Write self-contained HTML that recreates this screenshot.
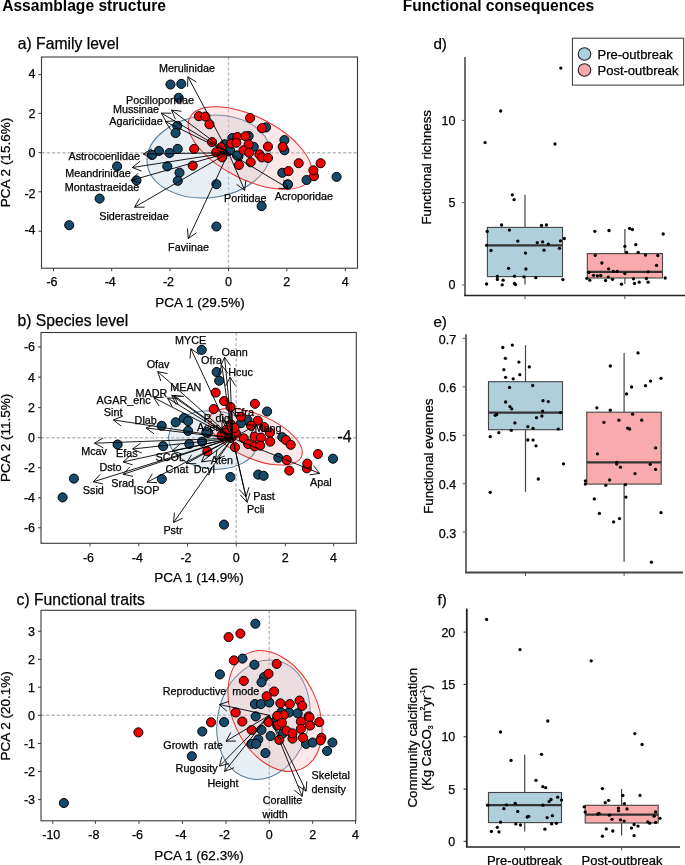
<!DOCTYPE html>
<html><head><meta charset="utf-8"><style>
html,body{margin:0;padding:0;background:#fff;}
body{width:685px;height:865px;overflow:hidden;font-family:"Liberation Sans", sans-serif;}
svg{display:block;will-change:transform;}
</style></head><body>
<svg width="685" height="865" viewBox="0 0 685 865" font-family='"Liberation Sans", sans-serif'>
<rect width="685" height="865" fill="#fff"/>
<text x="2.2" y="11" font-size="15.6" text-anchor="start" font-weight="bold" fill="#000">Assamblage structure</text>
<text x="402.7" y="11" font-size="15.6" text-anchor="start" font-weight="bold" fill="#000">Functional consequences</text>
<text x="17.8" y="49" font-size="15.7" text-anchor="start" font-weight="normal" fill="#000" stroke="#000" stroke-width="0.25">a) Family level</text>
<line x1="228.50" y1="57.00" x2="228.50" y2="268.20" stroke="#bbbbbb" stroke-width="1.4" stroke-dasharray="3.2,2"/>
<line x1="41.50" y1="152.70" x2="357.50" y2="152.70" stroke="#bbbbbb" stroke-width="1.4" stroke-dasharray="3.2,2"/>
<ellipse cx="208.5" cy="156.5" rx="61.7" ry="41.2" transform="rotate(-6.5 208.5 156.5)" fill="#aecbdc" fill-opacity="0.3" stroke="#4f7896" stroke-width="1"/>
<ellipse cx="250" cy="148" rx="67.4" ry="31.3" transform="rotate(26.8 250 148)" fill="#f6b3b3" fill-opacity="0.3" stroke="#e83030" stroke-width="1"/>
<circle cx="170.5" cy="84.5" r="4.55" fill="#174a69" stroke="#000" stroke-width="1"/>
<circle cx="181.3" cy="83.9" r="4.55" fill="#174a69" stroke="#000" stroke-width="1"/>
<circle cx="178.7" cy="97.8" r="4.55" fill="#174a69" stroke="#000" stroke-width="1"/>
<circle cx="177.3" cy="125.8" r="4.55" fill="#174a69" stroke="#000" stroke-width="1"/>
<circle cx="175.6" cy="133" r="4.55" fill="#174a69" stroke="#000" stroke-width="1"/>
<circle cx="177.7" cy="148.9" r="4.55" fill="#174a69" stroke="#000" stroke-width="1"/>
<circle cx="169.5" cy="153" r="4.55" fill="#174a69" stroke="#000" stroke-width="1"/>
<circle cx="158.9" cy="151" r="4.55" fill="#174a69" stroke="#000" stroke-width="1"/>
<circle cx="152.1" cy="155" r="4.55" fill="#174a69" stroke="#000" stroke-width="1"/>
<circle cx="117.1" cy="166.4" r="4.55" fill="#174a69" stroke="#000" stroke-width="1"/>
<circle cx="136.5" cy="180.4" r="4.55" fill="#174a69" stroke="#000" stroke-width="1"/>
<circle cx="99.6" cy="198.6" r="4.55" fill="#174a69" stroke="#000" stroke-width="1"/>
<circle cx="69.2" cy="225.2" r="4.55" fill="#174a69" stroke="#000" stroke-width="1"/>
<circle cx="167.3" cy="166.4" r="4.55" fill="#174a69" stroke="#000" stroke-width="1"/>
<circle cx="179.5" cy="172.7" r="4.55" fill="#174a69" stroke="#000" stroke-width="1"/>
<circle cx="177.8" cy="180.8" r="4.55" fill="#174a69" stroke="#000" stroke-width="1"/>
<circle cx="216.4" cy="184.2" r="4.55" fill="#174a69" stroke="#000" stroke-width="1"/>
<circle cx="261.6" cy="206.1" r="4.55" fill="#174a69" stroke="#000" stroke-width="1"/>
<circle cx="216.4" cy="226.5" r="4.55" fill="#174a69" stroke="#000" stroke-width="1"/>
<circle cx="287.6" cy="184.5" r="4.55" fill="#174a69" stroke="#000" stroke-width="1"/>
<circle cx="336.6" cy="176.9" r="4.55" fill="#174a69" stroke="#000" stroke-width="1"/>
<circle cx="306.6" cy="180" r="4.55" fill="#174a69" stroke="#000" stroke-width="1"/>
<circle cx="266" cy="127.4" r="4.55" fill="#174a69" stroke="#000" stroke-width="1"/>
<circle cx="284.4" cy="140.1" r="4.55" fill="#174a69" stroke="#000" stroke-width="1"/>
<circle cx="284.4" cy="150.3" r="4.55" fill="#174a69" stroke="#000" stroke-width="1"/>
<circle cx="282.3" cy="172.8" r="4.55" fill="#174a69" stroke="#000" stroke-width="1"/>
<circle cx="232.3" cy="138" r="4.55" fill="#174a69" stroke="#000" stroke-width="1"/>
<circle cx="248.6" cy="136" r="4.55" fill="#174a69" stroke="#000" stroke-width="1"/>
<circle cx="253.7" cy="146.8" r="4.55" fill="#174a69" stroke="#000" stroke-width="1"/>
<circle cx="238.4" cy="156.4" r="4.55" fill="#174a69" stroke="#000" stroke-width="1"/>
<circle cx="228.2" cy="151.3" r="4.55" fill="#174a69" stroke="#000" stroke-width="1"/>
<circle cx="224.8" cy="144.2" r="4.55" fill="#174a69" stroke="#000" stroke-width="1"/>
<circle cx="230" cy="150.3" r="4.55" fill="#174a69" stroke="#000" stroke-width="1"/>
<circle cx="237.1" cy="155.4" r="4.55" fill="#174a69" stroke="#000" stroke-width="1"/>
<circle cx="288" cy="184.4" r="4.55" fill="#174a69" stroke="#000" stroke-width="1"/>
<circle cx="198.9" cy="116.2" r="4.55" fill="#ee0000" stroke="#000" stroke-width="1"/>
<circle cx="205.4" cy="116.6" r="4.55" fill="#ee0000" stroke="#000" stroke-width="1"/>
<circle cx="209.5" cy="124.3" r="4.55" fill="#ee0000" stroke="#000" stroke-width="1"/>
<circle cx="250" cy="118" r="4.55" fill="#ee0000" stroke="#000" stroke-width="1"/>
<circle cx="261.9" cy="128.2" r="4.55" fill="#ee0000" stroke="#000" stroke-width="1"/>
<circle cx="237.4" cy="137" r="4.55" fill="#ee0000" stroke="#000" stroke-width="1"/>
<circle cx="245.5" cy="136.2" r="4.55" fill="#ee0000" stroke="#000" stroke-width="1"/>
<circle cx="231.2" cy="143.5" r="4.55" fill="#ee0000" stroke="#000" stroke-width="1"/>
<circle cx="236.3" cy="142.7" r="4.55" fill="#ee0000" stroke="#000" stroke-width="1"/>
<circle cx="248.6" cy="144.4" r="4.55" fill="#ee0000" stroke="#000" stroke-width="1"/>
<circle cx="268" cy="146.6" r="4.55" fill="#ee0000" stroke="#000" stroke-width="1"/>
<circle cx="243.5" cy="150.3" r="4.55" fill="#ee0000" stroke="#000" stroke-width="1"/>
<circle cx="249.2" cy="152.7" r="4.55" fill="#ee0000" stroke="#000" stroke-width="1"/>
<circle cx="259.4" cy="154.4" r="4.55" fill="#ee0000" stroke="#000" stroke-width="1"/>
<circle cx="261.9" cy="157.4" r="4.55" fill="#ee0000" stroke="#000" stroke-width="1"/>
<circle cx="268" cy="158" r="4.55" fill="#ee0000" stroke="#000" stroke-width="1"/>
<circle cx="239" cy="165" r="4.55" fill="#ee0000" stroke="#000" stroke-width="1"/>
<circle cx="250.7" cy="162.3" r="4.55" fill="#ee0000" stroke="#000" stroke-width="1"/>
<circle cx="282.7" cy="146.8" r="4.55" fill="#ee0000" stroke="#000" stroke-width="1"/>
<circle cx="298.7" cy="163.2" r="4.55" fill="#ee0000" stroke="#000" stroke-width="1"/>
<circle cx="320.6" cy="163.2" r="4.55" fill="#ee0000" stroke="#000" stroke-width="1"/>
<circle cx="288.5" cy="171.1" r="4.55" fill="#ee0000" stroke="#000" stroke-width="1"/>
<circle cx="314" cy="176.2" r="4.55" fill="#ee0000" stroke="#000" stroke-width="1"/>
<circle cx="313.4" cy="170.3" r="4.55" fill="#ee0000" stroke="#000" stroke-width="1"/>
<circle cx="194.2" cy="148.9" r="4.55" fill="#ee0000" stroke="#000" stroke-width="1"/>
<circle cx="192.7" cy="165.6" r="4.55" fill="#ee0000" stroke="#000" stroke-width="1"/>
<circle cx="212" cy="142.1" r="4.55" fill="#ee0000" stroke="#000" stroke-width="1"/>
<circle cx="216.2" cy="152.3" r="4.55" fill="#ee0000" stroke="#000" stroke-width="1"/>
<circle cx="221.3" cy="147.2" r="4.55" fill="#ee0000" stroke="#000" stroke-width="1"/>
<circle cx="222.2" cy="157.4" r="4.55" fill="#ee0000" stroke="#000" stroke-width="1"/>
<line x1="228.50" y1="152.70" x2="187.90" y2="76.80" stroke="#000" stroke-width="0.9"/>
<line x1="187.90" y1="76.80" x2="196.39" y2="82.08" stroke="#000" stroke-width="0.9"/>
<line x1="187.90" y1="76.80" x2="187.58" y2="86.79" stroke="#000" stroke-width="0.9"/>
<line x1="228.50" y1="152.70" x2="171.50" y2="110.10" stroke="#000" stroke-width="0.9"/>
<line x1="171.50" y1="110.10" x2="181.43" y2="111.28" stroke="#000" stroke-width="0.9"/>
<line x1="171.50" y1="110.10" x2="175.44" y2="119.29" stroke="#000" stroke-width="0.9"/>
<line x1="228.50" y1="152.70" x2="161.30" y2="113.10" stroke="#000" stroke-width="0.9"/>
<line x1="161.30" y1="113.10" x2="171.30" y2="113.19" stroke="#000" stroke-width="0.9"/>
<line x1="161.30" y1="113.10" x2="166.22" y2="121.80" stroke="#000" stroke-width="0.9"/>
<line x1="228.50" y1="152.70" x2="165.30" y2="121.50" stroke="#000" stroke-width="0.9"/>
<line x1="165.30" y1="121.50" x2="175.28" y2="120.85" stroke="#000" stroke-width="0.9"/>
<line x1="165.30" y1="121.50" x2="170.85" y2="129.82" stroke="#000" stroke-width="0.9"/>
<line x1="228.50" y1="152.70" x2="143.30" y2="154.00" stroke="#000" stroke-width="0.9"/>
<line x1="143.30" y1="154.00" x2="151.88" y2="148.87" stroke="#000" stroke-width="0.9"/>
<line x1="143.30" y1="154.00" x2="152.04" y2="158.87" stroke="#000" stroke-width="0.9"/>
<line x1="228.50" y1="152.70" x2="132.30" y2="167.50" stroke="#000" stroke-width="0.9"/>
<line x1="132.30" y1="167.50" x2="140.10" y2="161.24" stroke="#000" stroke-width="0.9"/>
<line x1="132.30" y1="167.50" x2="141.62" y2="171.13" stroke="#000" stroke-width="0.9"/>
<line x1="228.50" y1="152.70" x2="131.10" y2="180.40" stroke="#000" stroke-width="0.9"/>
<line x1="131.10" y1="180.40" x2="138.06" y2="173.22" stroke="#000" stroke-width="0.9"/>
<line x1="131.10" y1="180.40" x2="140.80" y2="182.84" stroke="#000" stroke-width="0.9"/>
<line x1="228.50" y1="152.70" x2="134.60" y2="207.20" stroke="#000" stroke-width="0.9"/>
<line x1="134.60" y1="207.20" x2="139.58" y2="198.53" stroke="#000" stroke-width="0.9"/>
<line x1="134.60" y1="207.20" x2="144.60" y2="207.18" stroke="#000" stroke-width="0.9"/>
<line x1="228.50" y1="152.70" x2="188.30" y2="238.50" stroke="#000" stroke-width="0.9"/>
<line x1="188.30" y1="238.50" x2="187.45" y2="228.54" stroke="#000" stroke-width="0.9"/>
<line x1="188.30" y1="238.50" x2="196.50" y2="232.78" stroke="#000" stroke-width="0.9"/>
<line x1="228.50" y1="152.70" x2="244.70" y2="190.30" stroke="#000" stroke-width="0.9"/>
<line x1="244.70" y1="190.30" x2="236.68" y2="184.32" stroke="#000" stroke-width="0.9"/>
<line x1="244.70" y1="190.30" x2="245.87" y2="180.37" stroke="#000" stroke-width="0.9"/>
<line x1="228.50" y1="152.70" x2="288.50" y2="188.50" stroke="#000" stroke-width="0.9"/>
<line x1="288.50" y1="188.50" x2="278.50" y2="188.36" stroke="#000" stroke-width="0.9"/>
<line x1="288.50" y1="188.50" x2="283.62" y2="179.77" stroke="#000" stroke-width="0.9"/>
<text x="187" y="72" font-size="10.8" text-anchor="middle" font-weight="normal" fill="#000" stroke="#000" stroke-width="0.25">Merulinidae</text>
<text x="160" y="103.6" font-size="10.8" text-anchor="middle" font-weight="normal" fill="#000" stroke="#000" stroke-width="0.25">Pocilloporidae</text>
<text x="136" y="113.3" font-size="10.8" text-anchor="middle" font-weight="normal" fill="#000" stroke="#000" stroke-width="0.25">Mussinae</text>
<text x="136" y="124.7" font-size="10.8" text-anchor="middle" font-weight="normal" fill="#000" stroke="#000" stroke-width="0.25">Agariciidae</text>
<text x="104.2" y="159.6" font-size="10.8" text-anchor="middle" font-weight="normal" fill="#000" stroke="#000" stroke-width="0.25">Astrocoenlidae</text>
<text x="98" y="176.5" font-size="10.8" text-anchor="middle" font-weight="normal" fill="#000" stroke="#000" stroke-width="0.25">Meandrinidae</text>
<text x="102" y="191.2" font-size="10.8" text-anchor="middle" font-weight="normal" fill="#000" stroke="#000" stroke-width="0.25">Montastraeidae</text>
<text x="134" y="219.9" font-size="10.8" text-anchor="middle" font-weight="normal" fill="#000" stroke="#000" stroke-width="0.25">Siderastreidae</text>
<text x="188.5" y="250.8" font-size="10.8" text-anchor="middle" font-weight="normal" fill="#000" stroke="#000" stroke-width="0.25">Faviinae</text>
<text x="245.3" y="202" font-size="10.8" text-anchor="middle" font-weight="normal" fill="#000" stroke="#000" stroke-width="0.25">Poritidae</text>
<text x="303.8" y="200" font-size="10.8" text-anchor="middle" font-weight="normal" fill="#000" stroke="#000" stroke-width="0.25">Acroporidae</text>
<rect x="41.5" y="57" width="316.0" height="211.2" fill="none" stroke="#3a3a3a" stroke-width="1.1"/>
<line x1="38.50" y1="74.60" x2="41.50" y2="74.60" stroke="#3a3a3a" stroke-width="1"/>
<text x="35.5" y="77.9" font-size="12.5" text-anchor="end" font-weight="normal" fill="#000" stroke="#000" stroke-width="0.25">4</text>
<line x1="38.50" y1="113.40" x2="41.50" y2="113.40" stroke="#3a3a3a" stroke-width="1"/>
<text x="35.5" y="117.80000000000001" font-size="12.5" text-anchor="end" font-weight="normal" fill="#000" stroke="#000" stroke-width="0.25">2</text>
<line x1="38.50" y1="152.70" x2="41.50" y2="152.70" stroke="#3a3a3a" stroke-width="1"/>
<text x="35.5" y="156.9" font-size="12.5" text-anchor="end" font-weight="normal" fill="#000" stroke="#000" stroke-width="0.25">0</text>
<line x1="38.50" y1="191.80" x2="41.50" y2="191.80" stroke="#3a3a3a" stroke-width="1"/>
<text x="35.5" y="197.70000000000002" font-size="12.5" text-anchor="end" font-weight="normal" fill="#000" stroke="#000" stroke-width="0.25">-2</text>
<line x1="38.50" y1="231.20" x2="41.50" y2="231.20" stroke="#3a3a3a" stroke-width="1"/>
<text x="35.5" y="233.9" font-size="12.5" text-anchor="end" font-weight="normal" fill="#000" stroke="#000" stroke-width="0.25">-4</text>
<line x1="53.50" y1="268.20" x2="53.50" y2="271.20" stroke="#3a3a3a" stroke-width="1"/>
<text x="52.0" y="285.5" font-size="12.5" text-anchor="middle" font-weight="normal" fill="#000" stroke="#000" stroke-width="0.25">-6</text>
<line x1="111.70" y1="268.20" x2="111.70" y2="271.20" stroke="#3a3a3a" stroke-width="1"/>
<text x="110.2" y="285.5" font-size="12.5" text-anchor="middle" font-weight="normal" fill="#000" stroke="#000" stroke-width="0.25">-4</text>
<line x1="170.00" y1="268.20" x2="170.00" y2="271.20" stroke="#3a3a3a" stroke-width="1"/>
<text x="168.5" y="285.5" font-size="12.5" text-anchor="middle" font-weight="normal" fill="#000" stroke="#000" stroke-width="0.25">-2</text>
<line x1="228.50" y1="268.20" x2="228.50" y2="271.20" stroke="#3a3a3a" stroke-width="1"/>
<text x="228.5" y="285.5" font-size="12.5" text-anchor="middle" font-weight="normal" fill="#000" stroke="#000" stroke-width="0.25">0</text>
<line x1="286.80" y1="268.20" x2="286.80" y2="271.20" stroke="#3a3a3a" stroke-width="1"/>
<text x="286.8" y="285.5" font-size="12.5" text-anchor="middle" font-weight="normal" fill="#000" stroke="#000" stroke-width="0.25">2</text>
<line x1="345.30" y1="268.20" x2="345.30" y2="271.20" stroke="#3a3a3a" stroke-width="1"/>
<text x="345.3" y="285.5" font-size="12.5" text-anchor="middle" font-weight="normal" fill="#000" stroke="#000" stroke-width="0.25">4</text>
<text x="200" y="306.5" font-size="13.5" text-anchor="middle" font-weight="normal" fill="#000" stroke="#000" stroke-width="0.25">PCA 1 (29.5%)</text>
<text x="10.3" y="162.5" font-size="13.5" text-anchor="middle" font-weight="normal" fill="#000" stroke="#000" stroke-width="0.25" transform="rotate(-90 10.3 162.5)">PCA 2 (15.6%)</text>
<text x="17.5" y="326.4" font-size="15.7" text-anchor="start" font-weight="normal" fill="#000" stroke="#000" stroke-width="0.25">b) Species level</text>
<line x1="236.20" y1="332.50" x2="236.20" y2="543.30" stroke="#bbbbbb" stroke-width="1.4" stroke-dasharray="3.2,2"/>
<line x1="41.00" y1="437.70" x2="356.30" y2="437.70" stroke="#bbbbbb" stroke-width="1.4" stroke-dasharray="3.2,2"/>
<ellipse cx="213" cy="440" rx="44.5" ry="29" transform="rotate(5 213 440)" fill="#aecbdc" fill-opacity="0.3" stroke="#4f7896" stroke-width="1"/>
<ellipse cx="255.5" cy="436.8" rx="50" ry="22" transform="rotate(23.3 255.5 436.8)" fill="#f6b3b3" fill-opacity="0.3" stroke="#e83030" stroke-width="1"/>
<circle cx="201.7" cy="349.9" r="4.55" fill="#174a69" stroke="#000" stroke-width="1"/>
<circle cx="216.6" cy="372" r="4.55" fill="#174a69" stroke="#000" stroke-width="1"/>
<circle cx="219.2" cy="380.7" r="4.55" fill="#174a69" stroke="#000" stroke-width="1"/>
<circle cx="161.7" cy="425.8" r="4.55" fill="#174a69" stroke="#000" stroke-width="1"/>
<circle cx="175.7" cy="422.3" r="4.55" fill="#174a69" stroke="#000" stroke-width="1"/>
<circle cx="183.9" cy="418.1" r="4.55" fill="#174a69" stroke="#000" stroke-width="1"/>
<circle cx="188.1" cy="421.1" r="4.55" fill="#174a69" stroke="#000" stroke-width="1"/>
<circle cx="188.1" cy="430.9" r="4.55" fill="#174a69" stroke="#000" stroke-width="1"/>
<circle cx="206.8" cy="432.8" r="4.55" fill="#174a69" stroke="#000" stroke-width="1"/>
<circle cx="117.6" cy="444.5" r="4.55" fill="#174a69" stroke="#000" stroke-width="1"/>
<circle cx="163.1" cy="446.1" r="4.55" fill="#174a69" stroke="#000" stroke-width="1"/>
<circle cx="189.3" cy="444" r="4.55" fill="#174a69" stroke="#000" stroke-width="1"/>
<circle cx="202.1" cy="441.7" r="4.55" fill="#174a69" stroke="#000" stroke-width="1"/>
<circle cx="267.1" cy="411.5" r="4.55" fill="#174a69" stroke="#000" stroke-width="1"/>
<circle cx="247.4" cy="419.9" r="4.55" fill="#174a69" stroke="#000" stroke-width="1"/>
<circle cx="241" cy="423.1" r="4.55" fill="#174a69" stroke="#000" stroke-width="1"/>
<circle cx="282.3" cy="437.2" r="4.55" fill="#174a69" stroke="#000" stroke-width="1"/>
<circle cx="278.3" cy="457.8" r="4.55" fill="#174a69" stroke="#000" stroke-width="1"/>
<circle cx="258.2" cy="474.6" r="4.55" fill="#174a69" stroke="#000" stroke-width="1"/>
<circle cx="263.6" cy="475.8" r="4.55" fill="#174a69" stroke="#000" stroke-width="1"/>
<circle cx="230.4" cy="477" r="4.55" fill="#174a69" stroke="#000" stroke-width="1"/>
<circle cx="333" cy="458.7" r="4.55" fill="#174a69" stroke="#000" stroke-width="1"/>
<circle cx="73.9" cy="478.6" r="4.55" fill="#174a69" stroke="#000" stroke-width="1"/>
<circle cx="62.6" cy="497.4" r="4.55" fill="#174a69" stroke="#000" stroke-width="1"/>
<circle cx="161.8" cy="479" r="4.55" fill="#174a69" stroke="#000" stroke-width="1"/>
<circle cx="224" cy="524.6" r="4.55" fill="#174a69" stroke="#000" stroke-width="1"/>
<circle cx="208" cy="432.7" r="4.55" fill="#174a69" stroke="#000" stroke-width="1"/>
<circle cx="206.4" cy="431.9" r="4.55" fill="#174a69" stroke="#000" stroke-width="1"/>
<circle cx="236" cy="433.5" r="4.55" fill="#ee0000" stroke="#000" stroke-width="1"/>
<circle cx="231" cy="424.5" r="4.55" fill="#ee0000" stroke="#000" stroke-width="1"/>
<circle cx="215.7" cy="392.6" r="4.55" fill="#ee0000" stroke="#000" stroke-width="1"/>
<circle cx="224.1" cy="401.1" r="4.55" fill="#ee0000" stroke="#000" stroke-width="1"/>
<circle cx="230.5" cy="407" r="4.55" fill="#ee0000" stroke="#000" stroke-width="1"/>
<circle cx="213.7" cy="409.1" r="4.55" fill="#ee0000" stroke="#000" stroke-width="1"/>
<circle cx="254.9" cy="403.8" r="4.55" fill="#ee0000" stroke="#000" stroke-width="1"/>
<circle cx="241" cy="416.7" r="4.55" fill="#ee0000" stroke="#000" stroke-width="1"/>
<circle cx="257.8" cy="420.7" r="4.55" fill="#ee0000" stroke="#000" stroke-width="1"/>
<circle cx="251.1" cy="425.8" r="4.55" fill="#ee0000" stroke="#000" stroke-width="1"/>
<circle cx="264.2" cy="427.1" r="4.55" fill="#ee0000" stroke="#000" stroke-width="1"/>
<circle cx="269.9" cy="432.7" r="4.55" fill="#ee0000" stroke="#000" stroke-width="1"/>
<circle cx="234.5" cy="427.9" r="4.55" fill="#ee0000" stroke="#000" stroke-width="1"/>
<circle cx="221.7" cy="435.1" r="4.55" fill="#ee0000" stroke="#000" stroke-width="1"/>
<circle cx="243.8" cy="438.4" r="4.55" fill="#ee0000" stroke="#000" stroke-width="1"/>
<circle cx="254.6" cy="436.8" r="4.55" fill="#ee0000" stroke="#000" stroke-width="1"/>
<circle cx="261" cy="437.6" r="4.55" fill="#ee0000" stroke="#000" stroke-width="1"/>
<circle cx="248.2" cy="444" r="4.55" fill="#ee0000" stroke="#000" stroke-width="1"/>
<circle cx="254.6" cy="446.4" r="4.55" fill="#ee0000" stroke="#000" stroke-width="1"/>
<circle cx="260.2" cy="445.6" r="4.55" fill="#ee0000" stroke="#000" stroke-width="1"/>
<circle cx="270.2" cy="441.6" r="4.55" fill="#ee0000" stroke="#000" stroke-width="1"/>
<circle cx="235" cy="447.2" r="4.55" fill="#ee0000" stroke="#000" stroke-width="1"/>
<circle cx="285.9" cy="440" r="4.55" fill="#ee0000" stroke="#000" stroke-width="1"/>
<circle cx="290.7" cy="444.8" r="4.55" fill="#ee0000" stroke="#000" stroke-width="1"/>
<circle cx="286.7" cy="460" r="4.55" fill="#ee0000" stroke="#000" stroke-width="1"/>
<circle cx="289.3" cy="470.6" r="4.55" fill="#ee0000" stroke="#000" stroke-width="1"/>
<circle cx="207.3" cy="451.4" r="4.55" fill="#ee0000" stroke="#000" stroke-width="1"/>
<circle cx="306.8" cy="468.3" r="4.55" fill="#ee0000" stroke="#000" stroke-width="1"/>
<circle cx="307.3" cy="463.6" r="4.55" fill="#ee0000" stroke="#000" stroke-width="1"/>
<circle cx="318" cy="454" r="4.55" fill="#ee0000" stroke="#000" stroke-width="1"/>
<circle cx="228" cy="433" r="4.55" fill="#ee0000" stroke="#000" stroke-width="1"/>
<circle cx="231" cy="438" r="4.55" fill="#ee0000" stroke="#000" stroke-width="1"/>
<circle cx="226" cy="430" r="4.55" fill="#ee0000" stroke="#000" stroke-width="1"/>
<line x1="232.50" y1="438.20" x2="190.90" y2="348.70" stroke="#000" stroke-width="0.9"/>
<line x1="190.90" y1="348.70" x2="199.08" y2="354.45" stroke="#000" stroke-width="0.9"/>
<line x1="190.90" y1="348.70" x2="190.02" y2="358.66" stroke="#000" stroke-width="0.9"/>
<line x1="232.50" y1="438.20" x2="224.60" y2="357.30" stroke="#000" stroke-width="0.9"/>
<line x1="224.60" y1="357.30" x2="230.42" y2="365.43" stroke="#000" stroke-width="0.9"/>
<line x1="224.60" y1="357.30" x2="220.47" y2="366.41" stroke="#000" stroke-width="0.9"/>
<line x1="232.50" y1="438.20" x2="221.80" y2="365.50" stroke="#000" stroke-width="0.9"/>
<line x1="221.80" y1="365.50" x2="228.01" y2="373.34" stroke="#000" stroke-width="0.9"/>
<line x1="221.80" y1="365.50" x2="218.11" y2="374.80" stroke="#000" stroke-width="0.9"/>
<line x1="232.50" y1="438.20" x2="230.10" y2="377.20" stroke="#000" stroke-width="0.9"/>
<line x1="230.10" y1="377.20" x2="235.44" y2="385.66" stroke="#000" stroke-width="0.9"/>
<line x1="230.10" y1="377.20" x2="225.44" y2="386.05" stroke="#000" stroke-width="0.9"/>
<line x1="232.50" y1="438.20" x2="157.70" y2="371.60" stroke="#000" stroke-width="0.9"/>
<line x1="157.70" y1="371.60" x2="167.49" y2="373.62" stroke="#000" stroke-width="0.9"/>
<line x1="157.70" y1="371.60" x2="160.84" y2="381.09" stroke="#000" stroke-width="0.9"/>
<line x1="232.50" y1="438.20" x2="171.80" y2="395.40" stroke="#000" stroke-width="0.9"/>
<line x1="171.80" y1="395.40" x2="181.76" y2="396.30" stroke="#000" stroke-width="0.9"/>
<line x1="171.80" y1="395.40" x2="176.00" y2="404.48" stroke="#000" stroke-width="0.9"/>
<line x1="232.50" y1="438.20" x2="153.80" y2="397.70" stroke="#000" stroke-width="0.9"/>
<line x1="153.80" y1="397.70" x2="163.79" y2="397.22" stroke="#000" stroke-width="0.9"/>
<line x1="153.80" y1="397.70" x2="159.21" y2="406.11" stroke="#000" stroke-width="0.9"/>
<line x1="232.50" y1="438.20" x2="167.50" y2="398.00" stroke="#000" stroke-width="0.9"/>
<line x1="167.50" y1="398.00" x2="177.50" y2="398.30" stroke="#000" stroke-width="0.9"/>
<line x1="167.50" y1="398.00" x2="172.24" y2="406.81" stroke="#000" stroke-width="0.9"/>
<line x1="232.50" y1="438.20" x2="174.00" y2="395.50" stroke="#000" stroke-width="0.9"/>
<line x1="174.00" y1="395.50" x2="183.94" y2="396.57" stroke="#000" stroke-width="0.9"/>
<line x1="174.00" y1="395.50" x2="178.05" y2="404.64" stroke="#000" stroke-width="0.9"/>
<line x1="232.50" y1="438.20" x2="113.40" y2="419.90" stroke="#000" stroke-width="0.9"/>
<line x1="113.40" y1="419.90" x2="122.72" y2="416.27" stroke="#000" stroke-width="0.9"/>
<line x1="113.40" y1="419.90" x2="121.20" y2="426.16" stroke="#000" stroke-width="0.9"/>
<line x1="232.50" y1="438.20" x2="146.10" y2="428.00" stroke="#000" stroke-width="0.9"/>
<line x1="146.10" y1="428.00" x2="155.29" y2="424.05" stroke="#000" stroke-width="0.9"/>
<line x1="146.10" y1="428.00" x2="154.11" y2="433.98" stroke="#000" stroke-width="0.9"/>
<line x1="232.50" y1="438.20" x2="94.50" y2="443.20" stroke="#000" stroke-width="0.9"/>
<line x1="94.50" y1="443.20" x2="102.97" y2="437.89" stroke="#000" stroke-width="0.9"/>
<line x1="94.50" y1="443.20" x2="103.34" y2="447.88" stroke="#000" stroke-width="0.9"/>
<line x1="232.50" y1="438.20" x2="132.60" y2="449.00" stroke="#000" stroke-width="0.9"/>
<line x1="132.60" y1="449.00" x2="140.67" y2="443.10" stroke="#000" stroke-width="0.9"/>
<line x1="132.60" y1="449.00" x2="141.75" y2="453.04" stroke="#000" stroke-width="0.9"/>
<line x1="232.50" y1="438.20" x2="123.20" y2="461.90" stroke="#000" stroke-width="0.9"/>
<line x1="123.20" y1="461.90" x2="130.60" y2="455.18" stroke="#000" stroke-width="0.9"/>
<line x1="123.20" y1="461.90" x2="132.72" y2="464.95" stroke="#000" stroke-width="0.9"/>
<line x1="232.50" y1="438.20" x2="93.30" y2="481.80" stroke="#000" stroke-width="0.9"/>
<line x1="93.30" y1="481.80" x2="100.07" y2="474.44" stroke="#000" stroke-width="0.9"/>
<line x1="93.30" y1="481.80" x2="103.06" y2="483.98" stroke="#000" stroke-width="0.9"/>
<line x1="232.50" y1="438.20" x2="123.20" y2="474.30" stroke="#000" stroke-width="0.9"/>
<line x1="123.20" y1="474.30" x2="129.86" y2="466.84" stroke="#000" stroke-width="0.9"/>
<line x1="123.20" y1="474.30" x2="132.99" y2="476.33" stroke="#000" stroke-width="0.9"/>
<line x1="232.50" y1="438.20" x2="147.00" y2="482.20" stroke="#000" stroke-width="0.9"/>
<line x1="147.00" y1="482.20" x2="152.41" y2="473.79" stroke="#000" stroke-width="0.9"/>
<line x1="147.00" y1="482.20" x2="156.99" y2="482.68" stroke="#000" stroke-width="0.9"/>
<line x1="232.50" y1="438.20" x2="172.30" y2="450.90" stroke="#000" stroke-width="0.9"/>
<line x1="172.30" y1="450.90" x2="179.74" y2="444.22" stroke="#000" stroke-width="0.9"/>
<line x1="172.30" y1="450.90" x2="181.81" y2="454.00" stroke="#000" stroke-width="0.9"/>
<line x1="232.50" y1="438.20" x2="186.30" y2="463.50" stroke="#000" stroke-width="0.9"/>
<line x1="186.30" y1="463.50" x2="191.49" y2="454.95" stroke="#000" stroke-width="0.9"/>
<line x1="186.30" y1="463.50" x2="196.30" y2="463.73" stroke="#000" stroke-width="0.9"/>
<line x1="232.50" y1="438.20" x2="201.50" y2="461.90" stroke="#000" stroke-width="0.9"/>
<line x1="201.50" y1="461.90" x2="205.34" y2="452.67" stroke="#000" stroke-width="0.9"/>
<line x1="201.50" y1="461.90" x2="211.42" y2="460.61" stroke="#000" stroke-width="0.9"/>
<line x1="232.50" y1="438.20" x2="215.50" y2="459.60" stroke="#000" stroke-width="0.9"/>
<line x1="215.50" y1="459.60" x2="216.97" y2="449.71" stroke="#000" stroke-width="0.9"/>
<line x1="215.50" y1="459.60" x2="224.80" y2="455.93" stroke="#000" stroke-width="0.9"/>
<line x1="232.50" y1="438.20" x2="173.60" y2="522.50" stroke="#000" stroke-width="0.9"/>
<line x1="173.60" y1="522.50" x2="174.46" y2="512.54" stroke="#000" stroke-width="0.9"/>
<line x1="173.60" y1="522.50" x2="182.66" y2="518.26" stroke="#000" stroke-width="0.9"/>
<line x1="232.50" y1="438.20" x2="247.10" y2="502.30" stroke="#000" stroke-width="0.9"/>
<line x1="247.10" y1="502.30" x2="240.30" y2="494.97" stroke="#000" stroke-width="0.9"/>
<line x1="247.10" y1="502.30" x2="250.05" y2="492.75" stroke="#000" stroke-width="0.9"/>
<line x1="232.50" y1="438.20" x2="246.00" y2="496.80" stroke="#000" stroke-width="0.9"/>
<line x1="246.00" y1="496.80" x2="239.18" y2="489.48" stroke="#000" stroke-width="0.9"/>
<line x1="246.00" y1="496.80" x2="248.93" y2="487.24" stroke="#000" stroke-width="0.9"/>
<line x1="232.50" y1="438.20" x2="319.60" y2="473.40" stroke="#000" stroke-width="0.9"/>
<line x1="319.60" y1="473.40" x2="309.70" y2="474.79" stroke="#000" stroke-width="0.9"/>
<line x1="319.60" y1="473.40" x2="313.44" y2="465.52" stroke="#000" stroke-width="0.9"/>
<line x1="232.50" y1="438.20" x2="256.00" y2="425.00" stroke="#000" stroke-width="0.9"/>
<line x1="256.00" y1="425.00" x2="250.90" y2="433.60" stroke="#000" stroke-width="0.9"/>
<line x1="256.00" y1="425.00" x2="246.00" y2="424.88" stroke="#000" stroke-width="0.9"/>
<line x1="232.50" y1="438.20" x2="222.00" y2="420.00" stroke="#000" stroke-width="0.9"/>
<line x1="222.00" y1="420.00" x2="230.66" y2="425.00" stroke="#000" stroke-width="0.9"/>
<line x1="222.00" y1="420.00" x2="222.00" y2="430.00" stroke="#000" stroke-width="0.9"/>
<line x1="232.50" y1="438.20" x2="218.00" y2="428.00" stroke="#000" stroke-width="0.9"/>
<line x1="218.00" y1="428.00" x2="227.96" y2="428.89" stroke="#000" stroke-width="0.9"/>
<line x1="218.00" y1="428.00" x2="222.21" y2="437.07" stroke="#000" stroke-width="0.9"/>
<line x1="232.50" y1="438.20" x2="232.00" y2="410.00" stroke="#000" stroke-width="0.9"/>
<line x1="232.00" y1="410.00" x2="237.15" y2="418.57" stroke="#000" stroke-width="0.9"/>
<line x1="232.00" y1="410.00" x2="227.15" y2="418.75" stroke="#000" stroke-width="0.9"/>
<text x="190.6" y="344.4" font-size="10.8" text-anchor="middle" font-weight="normal" fill="#000" stroke="#000" stroke-width="0.25">MYCE</text>
<text x="234.6" y="356.1" font-size="10.8" text-anchor="middle" font-weight="normal" fill="#000" stroke="#000" stroke-width="0.25">Oann</text>
<text x="211.6" y="364.3" font-size="10.8" text-anchor="middle" font-weight="normal" fill="#000" stroke="#000" stroke-width="0.25">Ofra</text>
<text x="240.5" y="375.9" font-size="10.8" text-anchor="middle" font-weight="normal" fill="#000" stroke="#000" stroke-width="0.25">Hcuc</text>
<text x="158.1" y="367.8" font-size="10.8" text-anchor="middle" font-weight="normal" fill="#000" stroke="#000" stroke-width="0.25">Ofav</text>
<text x="185.8" y="391.1" font-size="10.8" text-anchor="middle" font-weight="normal" fill="#000" stroke="#000" stroke-width="0.25">MEAN</text>
<text x="151.5" y="396.5" font-size="10.8" text-anchor="middle" font-weight="normal" fill="#000" stroke="#000" stroke-width="0.25">MADR</text>
<text x="123.6" y="404.4" font-size="10.8" text-anchor="middle" font-weight="normal" fill="#000" stroke="#000" stroke-width="0.25">AGAR_enc</text>
<text x="113.1" y="415.7" font-size="10.8" text-anchor="middle" font-weight="normal" fill="#000" stroke="#000" stroke-width="0.25">Sint</text>
<text x="145.7" y="423.9" font-size="10.8" text-anchor="middle" font-weight="normal" fill="#000" stroke="#000" stroke-width="0.25">Dlab</text>
<text x="216.9" y="422" font-size="10.8" text-anchor="middle" font-weight="normal" fill="#000" stroke="#000" stroke-width="0.25">P. dig</text>
<text x="244" y="415.7" font-size="10.8" text-anchor="middle" font-weight="normal" fill="#000" stroke="#000" stroke-width="0.25">Efra</text>
<text x="208" y="431.3" font-size="10.8" text-anchor="middle" font-weight="normal" fill="#000" stroke="#000" stroke-width="0.25">Acer</text>
<text x="268" y="431.8" font-size="10.8" text-anchor="middle" font-weight="normal" fill="#000" stroke="#000" stroke-width="0.25">Mang</text>
<text x="94.1" y="454.5" font-size="10.8" text-anchor="middle" font-weight="normal" fill="#000" stroke="#000" stroke-width="0.25">Mcav</text>
<text x="126.8" y="457" font-size="10.8" text-anchor="middle" font-weight="normal" fill="#000" stroke="#000" stroke-width="0.25">Efas</text>
<text x="170.2" y="460.9" font-size="10.8" text-anchor="middle" font-weight="normal" fill="#000" stroke="#000" stroke-width="0.25">SCOL</text>
<text x="221.9" y="464.1" font-size="10.8" text-anchor="middle" font-weight="normal" fill="#000" stroke="#000" stroke-width="0.25">Aten</text>
<text x="110.5" y="471.2" font-size="10.8" text-anchor="middle" font-weight="normal" fill="#000" stroke="#000" stroke-width="0.25">Dsto</text>
<text x="177" y="473.3" font-size="10.8" text-anchor="middle" font-weight="normal" fill="#000" stroke="#000" stroke-width="0.25">Cnat</text>
<text x="204.3" y="473.3" font-size="10.8" text-anchor="middle" font-weight="normal" fill="#000" stroke="#000" stroke-width="0.25">Dcyl</text>
<text x="122.6" y="487" font-size="10.8" text-anchor="middle" font-weight="normal" fill="#000" stroke="#000" stroke-width="0.25">Srad</text>
<text x="146.5" y="494.3" font-size="10.8" text-anchor="middle" font-weight="normal" fill="#000" stroke="#000" stroke-width="0.25">ISOP</text>
<text x="93.3" y="493.6" font-size="10.8" text-anchor="middle" font-weight="normal" fill="#000" stroke="#000" stroke-width="0.25">Ssid</text>
<text x="320.8" y="485.5" font-size="10.8" text-anchor="middle" font-weight="normal" fill="#000" stroke="#000" stroke-width="0.25">Apal</text>
<text x="264" y="499.6" font-size="10.8" text-anchor="middle" font-weight="normal" fill="#000" stroke="#000" stroke-width="0.25">Past</text>
<text x="255.8" y="512.7" font-size="10.8" text-anchor="middle" font-weight="normal" fill="#000" stroke="#000" stroke-width="0.25">Pcli</text>
<text x="173" y="533.7" font-size="10.8" text-anchor="middle" font-weight="normal" fill="#000" stroke="#000" stroke-width="0.25">Pstr</text>
<text x="337.6" y="441.7" font-size="15.8" text-anchor="start" font-weight="normal" fill="#000" stroke="#000" stroke-width="0.25">-4</text>
<rect x="41" y="332.5" width="315.3" height="210.79999999999995" fill="none" stroke="#3a3a3a" stroke-width="1.1"/>
<line x1="38.00" y1="347.00" x2="41.00" y2="347.00" stroke="#3a3a3a" stroke-width="1"/>
<text x="35" y="351.4" font-size="12.5" text-anchor="end" font-weight="normal" fill="#000" stroke="#000" stroke-width="0.25">-6</text>
<line x1="38.00" y1="377.10" x2="41.00" y2="377.10" stroke="#3a3a3a" stroke-width="1"/>
<text x="35" y="381.5" font-size="12.5" text-anchor="end" font-weight="normal" fill="#000" stroke="#000" stroke-width="0.25">4</text>
<line x1="38.00" y1="407.70" x2="41.00" y2="407.70" stroke="#3a3a3a" stroke-width="1"/>
<text x="35" y="412.09999999999997" font-size="12.5" text-anchor="end" font-weight="normal" fill="#000" stroke="#000" stroke-width="0.25">2</text>
<line x1="38.00" y1="437.70" x2="41.00" y2="437.70" stroke="#3a3a3a" stroke-width="1"/>
<text x="35" y="442.09999999999997" font-size="12.5" text-anchor="end" font-weight="normal" fill="#000" stroke="#000" stroke-width="0.25">0</text>
<line x1="38.00" y1="467.70" x2="41.00" y2="467.70" stroke="#3a3a3a" stroke-width="1"/>
<text x="35" y="472.09999999999997" font-size="12.5" text-anchor="end" font-weight="normal" fill="#000" stroke="#000" stroke-width="0.25">-2</text>
<line x1="38.00" y1="497.80" x2="41.00" y2="497.80" stroke="#3a3a3a" stroke-width="1"/>
<text x="35" y="502.2" font-size="12.5" text-anchor="end" font-weight="normal" fill="#000" stroke="#000" stroke-width="0.25">-4</text>
<line x1="38.00" y1="527.80" x2="41.00" y2="527.80" stroke="#3a3a3a" stroke-width="1"/>
<text x="35" y="532.1999999999999" font-size="12.5" text-anchor="end" font-weight="normal" fill="#000" stroke="#000" stroke-width="0.25">-6</text>
<line x1="90.00" y1="543.30" x2="90.00" y2="546.30" stroke="#3a3a3a" stroke-width="1"/>
<text x="88.5" y="561.8" font-size="12.5" text-anchor="middle" font-weight="normal" fill="#000" stroke="#000" stroke-width="0.25">-6</text>
<line x1="138.80" y1="543.30" x2="138.80" y2="546.30" stroke="#3a3a3a" stroke-width="1"/>
<text x="137.3" y="561.8" font-size="12.5" text-anchor="middle" font-weight="normal" fill="#000" stroke="#000" stroke-width="0.25">-4</text>
<line x1="187.50" y1="543.30" x2="187.50" y2="546.30" stroke="#3a3a3a" stroke-width="1"/>
<text x="186.0" y="561.8" font-size="12.5" text-anchor="middle" font-weight="normal" fill="#000" stroke="#000" stroke-width="0.25">-2</text>
<line x1="236.20" y1="543.30" x2="236.20" y2="546.30" stroke="#3a3a3a" stroke-width="1"/>
<text x="236.2" y="561.8" font-size="12.5" text-anchor="middle" font-weight="normal" fill="#000" stroke="#000" stroke-width="0.25">0</text>
<line x1="285.30" y1="543.30" x2="285.30" y2="546.30" stroke="#3a3a3a" stroke-width="1"/>
<text x="285.3" y="561.8" font-size="12.5" text-anchor="middle" font-weight="normal" fill="#000" stroke="#000" stroke-width="0.25">2</text>
<line x1="333.60" y1="543.30" x2="333.60" y2="546.30" stroke="#3a3a3a" stroke-width="1"/>
<text x="333.6" y="561.8" font-size="12.5" text-anchor="middle" font-weight="normal" fill="#000" stroke="#000" stroke-width="0.25">4</text>
<text x="199" y="582.3" font-size="13.5" text-anchor="middle" font-weight="normal" fill="#000" stroke="#000" stroke-width="0.25">PCA 1 (14.9%)</text>
<text x="10.3" y="437.8" font-size="13.5" text-anchor="middle" font-weight="normal" fill="#000" stroke="#000" stroke-width="0.25" transform="rotate(-90 10.3 437.8)">PCA 2 (11.5%)</text>
<text x="16.6" y="604.9" font-size="15.7" text-anchor="start" font-weight="normal" fill="#000" stroke="#000" stroke-width="0.25">c) Functional traits</text>
<line x1="269.30" y1="610.30" x2="269.30" y2="820.80" stroke="#bbbbbb" stroke-width="1.4" stroke-dasharray="3.2,2"/>
<line x1="41.00" y1="715.30" x2="355.80" y2="715.30" stroke="#bbbbbb" stroke-width="1.4" stroke-dasharray="3.2,2"/>
<ellipse cx="263.4" cy="719.65" rx="60.5" ry="45.5" transform="rotate(-75.4 263.4 719.65)" fill="#aecbdc" fill-opacity="0.3" stroke="#4f7896" stroke-width="1"/>
<ellipse cx="275" cy="711" rx="63.7" ry="42.4" transform="rotate(64.7 275 711)" fill="#f6b3b3" fill-opacity="0.3" stroke="#e83030" stroke-width="1"/>
<circle cx="283" cy="733.3" r="4.55" fill="#174a69" stroke="#000" stroke-width="1"/>
<circle cx="275.2" cy="721.5" r="4.55" fill="#174a69" stroke="#000" stroke-width="1"/>
<circle cx="255.4" cy="623.7" r="4.55" fill="#174a69" stroke="#000" stroke-width="1"/>
<circle cx="242.5" cy="658.6" r="4.55" fill="#174a69" stroke="#000" stroke-width="1"/>
<circle cx="254.4" cy="664.7" r="4.55" fill="#174a69" stroke="#000" stroke-width="1"/>
<circle cx="219.9" cy="674.4" r="4.55" fill="#174a69" stroke="#000" stroke-width="1"/>
<circle cx="264.1" cy="677" r="4.55" fill="#174a69" stroke="#000" stroke-width="1"/>
<circle cx="261.5" cy="682.3" r="4.55" fill="#174a69" stroke="#000" stroke-width="1"/>
<circle cx="254.9" cy="704.1" r="4.55" fill="#174a69" stroke="#000" stroke-width="1"/>
<circle cx="260.9" cy="704.1" r="4.55" fill="#174a69" stroke="#000" stroke-width="1"/>
<circle cx="269.3" cy="702.5" r="4.55" fill="#174a69" stroke="#000" stroke-width="1"/>
<circle cx="281.2" cy="712.5" r="4.55" fill="#174a69" stroke="#000" stroke-width="1"/>
<circle cx="289" cy="712.5" r="4.55" fill="#174a69" stroke="#000" stroke-width="1"/>
<circle cx="297.7" cy="713.3" r="4.55" fill="#174a69" stroke="#000" stroke-width="1"/>
<circle cx="255.7" cy="716.4" r="4.55" fill="#174a69" stroke="#000" stroke-width="1"/>
<circle cx="224.1" cy="722.1" r="4.55" fill="#174a69" stroke="#000" stroke-width="1"/>
<circle cx="202.3" cy="731.5" r="4.55" fill="#174a69" stroke="#000" stroke-width="1"/>
<circle cx="191.8" cy="756.2" r="4.55" fill="#174a69" stroke="#000" stroke-width="1"/>
<circle cx="261.5" cy="729.9" r="4.55" fill="#174a69" stroke="#000" stroke-width="1"/>
<circle cx="270.6" cy="736" r="4.55" fill="#174a69" stroke="#000" stroke-width="1"/>
<circle cx="258.3" cy="739.4" r="4.55" fill="#174a69" stroke="#000" stroke-width="1"/>
<circle cx="251.5" cy="743.9" r="4.55" fill="#174a69" stroke="#000" stroke-width="1"/>
<circle cx="256.2" cy="743.9" r="4.55" fill="#174a69" stroke="#000" stroke-width="1"/>
<circle cx="265.4" cy="753.1" r="4.55" fill="#174a69" stroke="#000" stroke-width="1"/>
<circle cx="306.1" cy="743.9" r="4.55" fill="#174a69" stroke="#000" stroke-width="1"/>
<circle cx="312.7" cy="742.5" r="4.55" fill="#174a69" stroke="#000" stroke-width="1"/>
<circle cx="332.4" cy="742.5" r="4.55" fill="#174a69" stroke="#000" stroke-width="1"/>
<circle cx="327.1" cy="751" r="4.55" fill="#174a69" stroke="#000" stroke-width="1"/>
<circle cx="63.9" cy="803" r="4.55" fill="#174a69" stroke="#000" stroke-width="1"/>
<circle cx="277.2" cy="725.5" r="4.55" fill="#ee0000" stroke="#000" stroke-width="1"/>
<circle cx="228.6" cy="637.1" r="4.55" fill="#ee0000" stroke="#000" stroke-width="1"/>
<circle cx="240.4" cy="633.6" r="4.55" fill="#ee0000" stroke="#000" stroke-width="1"/>
<circle cx="233.9" cy="660.4" r="4.55" fill="#ee0000" stroke="#000" stroke-width="1"/>
<circle cx="276.7" cy="663.9" r="4.55" fill="#ee0000" stroke="#000" stroke-width="1"/>
<circle cx="268.5" cy="673.8" r="4.55" fill="#ee0000" stroke="#000" stroke-width="1"/>
<circle cx="243.8" cy="680.9" r="4.55" fill="#ee0000" stroke="#000" stroke-width="1"/>
<circle cx="274.1" cy="691.5" r="4.55" fill="#ee0000" stroke="#000" stroke-width="1"/>
<circle cx="266.7" cy="696.2" r="4.55" fill="#ee0000" stroke="#000" stroke-width="1"/>
<circle cx="280.4" cy="703.3" r="4.55" fill="#ee0000" stroke="#000" stroke-width="1"/>
<circle cx="289.8" cy="704.1" r="4.55" fill="#ee0000" stroke="#000" stroke-width="1"/>
<circle cx="299.5" cy="700.6" r="4.55" fill="#ee0000" stroke="#000" stroke-width="1"/>
<circle cx="302.2" cy="705.9" r="4.55" fill="#ee0000" stroke="#000" stroke-width="1"/>
<circle cx="235.7" cy="712.5" r="4.55" fill="#ee0000" stroke="#000" stroke-width="1"/>
<circle cx="283.8" cy="715.1" r="4.55" fill="#ee0000" stroke="#000" stroke-width="1"/>
<circle cx="277.2" cy="715.9" r="4.55" fill="#ee0000" stroke="#000" stroke-width="1"/>
<circle cx="308.7" cy="716.4" r="4.55" fill="#ee0000" stroke="#000" stroke-width="1"/>
<circle cx="211" cy="722.3" r="4.55" fill="#ee0000" stroke="#000" stroke-width="1"/>
<circle cx="242.3" cy="721.5" r="4.55" fill="#ee0000" stroke="#000" stroke-width="1"/>
<circle cx="251.7" cy="730" r="4.55" fill="#ee0000" stroke="#000" stroke-width="1"/>
<circle cx="268.5" cy="722" r="4.55" fill="#ee0000" stroke="#000" stroke-width="1"/>
<circle cx="281.9" cy="722.8" r="4.55" fill="#ee0000" stroke="#000" stroke-width="1"/>
<circle cx="279.3" cy="739.9" r="4.55" fill="#ee0000" stroke="#000" stroke-width="1"/>
<circle cx="286.4" cy="730.7" r="4.55" fill="#ee0000" stroke="#000" stroke-width="1"/>
<circle cx="292.5" cy="738.6" r="4.55" fill="#ee0000" stroke="#000" stroke-width="1"/>
<circle cx="292.5" cy="733.4" r="4.55" fill="#ee0000" stroke="#000" stroke-width="1"/>
<circle cx="300.9" cy="721.5" r="4.55" fill="#ee0000" stroke="#000" stroke-width="1"/>
<circle cx="300.9" cy="728.9" r="4.55" fill="#ee0000" stroke="#000" stroke-width="1"/>
<circle cx="309.5" cy="717.6" r="4.55" fill="#ee0000" stroke="#000" stroke-width="1"/>
<circle cx="310.1" cy="725.5" r="4.55" fill="#ee0000" stroke="#000" stroke-width="1"/>
<circle cx="319.3" cy="722.1" r="4.55" fill="#ee0000" stroke="#000" stroke-width="1"/>
<circle cx="303" cy="737.8" r="4.55" fill="#ee0000" stroke="#000" stroke-width="1"/>
<circle cx="321.4" cy="737.8" r="4.55" fill="#ee0000" stroke="#000" stroke-width="1"/>
<circle cx="320.6" cy="740.4" r="4.55" fill="#ee0000" stroke="#000" stroke-width="1"/>
<circle cx="138.4" cy="732.4" r="4.55" fill="#ee0000" stroke="#000" stroke-width="1"/>
<line x1="269.30" y1="715.30" x2="219.40" y2="704.50" stroke="#000" stroke-width="0.9"/>
<line x1="219.40" y1="704.50" x2="228.92" y2="701.45" stroke="#000" stroke-width="0.9"/>
<line x1="219.40" y1="704.50" x2="226.81" y2="711.22" stroke="#000" stroke-width="0.9"/>
<line x1="269.30" y1="715.30" x2="226.00" y2="741.20" stroke="#000" stroke-width="0.9"/>
<line x1="226.00" y1="741.20" x2="230.87" y2="732.46" stroke="#000" stroke-width="0.9"/>
<line x1="226.00" y1="741.20" x2="236.00" y2="741.05" stroke="#000" stroke-width="0.9"/>
<line x1="269.30" y1="715.30" x2="219.40" y2="766.20" stroke="#000" stroke-width="0.9"/>
<line x1="219.40" y1="766.20" x2="221.89" y2="756.52" stroke="#000" stroke-width="0.9"/>
<line x1="219.40" y1="766.20" x2="229.03" y2="763.52" stroke="#000" stroke-width="0.9"/>
<line x1="269.30" y1="715.30" x2="224.70" y2="771.40" stroke="#000" stroke-width="0.9"/>
<line x1="224.70" y1="771.40" x2="226.18" y2="761.51" stroke="#000" stroke-width="0.9"/>
<line x1="224.70" y1="771.40" x2="234.00" y2="767.73" stroke="#000" stroke-width="0.9"/>
<line x1="269.30" y1="715.30" x2="306.10" y2="791.20" stroke="#000" stroke-width="0.9"/>
<line x1="306.10" y1="791.20" x2="297.82" y2="785.59" stroke="#000" stroke-width="0.9"/>
<line x1="306.10" y1="791.20" x2="306.82" y2="781.23" stroke="#000" stroke-width="0.9"/>
<line x1="269.30" y1="715.30" x2="302.20" y2="796.40" stroke="#000" stroke-width="0.9"/>
<line x1="302.20" y1="796.40" x2="294.31" y2="790.25" stroke="#000" stroke-width="0.9"/>
<line x1="302.20" y1="796.40" x2="303.58" y2="786.50" stroke="#000" stroke-width="0.9"/>
<text x="211" y="695.3" font-size="10.8" text-anchor="middle" font-weight="normal" fill="#000" stroke="#000" stroke-width="0.25">Reproductive&#160;&#160;mode</text>
<text x="193" y="749.2" font-size="10.8" text-anchor="middle" font-weight="normal" fill="#000" stroke="#000" stroke-width="0.25">Growth&#160;&#160;rate</text>
<text x="196.6" y="772.3" font-size="10.8" text-anchor="middle" font-weight="normal" fill="#000" stroke="#000" stroke-width="0.25">Rugosity</text>
<text x="223" y="787.3" font-size="10.8" text-anchor="middle" font-weight="normal" fill="#000" stroke="#000" stroke-width="0.25">Height</text>
<text x="330.8" y="779.4" font-size="10.8" text-anchor="middle" font-weight="normal" fill="#000" stroke="#000" stroke-width="0.25">Skeletal</text>
<text x="328.7" y="793.3" font-size="10.8" text-anchor="middle" font-weight="normal" fill="#000" stroke="#000" stroke-width="0.25">density</text>
<text x="282.5" y="803.7" font-size="10.8" text-anchor="middle" font-weight="normal" fill="#000" stroke="#000" stroke-width="0.25">Corallite</text>
<text x="275.2" y="817.6" font-size="10.8" text-anchor="middle" font-weight="normal" fill="#000" stroke="#000" stroke-width="0.25">width</text>
<rect x="41" y="610.3" width="314.8" height="210.5" fill="none" stroke="#3a3a3a" stroke-width="1.1"/>
<line x1="38.00" y1="631.20" x2="41.00" y2="631.20" stroke="#3a3a3a" stroke-width="1"/>
<text x="35" y="635.6" font-size="12.5" text-anchor="end" font-weight="normal" fill="#000" stroke="#000" stroke-width="0.25">3</text>
<line x1="38.00" y1="659.40" x2="41.00" y2="659.40" stroke="#3a3a3a" stroke-width="1"/>
<text x="35" y="663.8" font-size="12.5" text-anchor="end" font-weight="normal" fill="#000" stroke="#000" stroke-width="0.25">2</text>
<line x1="38.00" y1="687.20" x2="41.00" y2="687.20" stroke="#3a3a3a" stroke-width="1"/>
<text x="35" y="691.6" font-size="12.5" text-anchor="end" font-weight="normal" fill="#000" stroke="#000" stroke-width="0.25">1</text>
<line x1="38.00" y1="715.30" x2="41.00" y2="715.30" stroke="#3a3a3a" stroke-width="1"/>
<text x="35" y="719.6999999999999" font-size="12.5" text-anchor="end" font-weight="normal" fill="#000" stroke="#000" stroke-width="0.25">0</text>
<line x1="38.00" y1="743.50" x2="41.00" y2="743.50" stroke="#3a3a3a" stroke-width="1"/>
<text x="35" y="747.9" font-size="12.5" text-anchor="end" font-weight="normal" fill="#000" stroke="#000" stroke-width="0.25">-1</text>
<line x1="38.00" y1="771.50" x2="41.00" y2="771.50" stroke="#3a3a3a" stroke-width="1"/>
<text x="35" y="775.9" font-size="12.5" text-anchor="end" font-weight="normal" fill="#000" stroke="#000" stroke-width="0.25">-2</text>
<line x1="38.00" y1="799.60" x2="41.00" y2="799.60" stroke="#3a3a3a" stroke-width="1"/>
<text x="35" y="804.0" font-size="12.5" text-anchor="end" font-weight="normal" fill="#000" stroke="#000" stroke-width="0.25">-3</text>
<line x1="52.80" y1="820.80" x2="52.80" y2="823.80" stroke="#3a3a3a" stroke-width="1"/>
<text x="51.3" y="839" font-size="12.5" text-anchor="middle" font-weight="normal" fill="#000" stroke="#000" stroke-width="0.25">-10</text>
<line x1="95.40" y1="820.80" x2="95.40" y2="823.80" stroke="#3a3a3a" stroke-width="1"/>
<text x="93.9" y="839" font-size="12.5" text-anchor="middle" font-weight="normal" fill="#000" stroke="#000" stroke-width="0.25">-8</text>
<line x1="139.00" y1="820.80" x2="139.00" y2="823.80" stroke="#3a3a3a" stroke-width="1"/>
<text x="137.5" y="839" font-size="12.5" text-anchor="middle" font-weight="normal" fill="#000" stroke="#000" stroke-width="0.25">-6</text>
<line x1="182.40" y1="820.80" x2="182.40" y2="823.80" stroke="#3a3a3a" stroke-width="1"/>
<text x="180.9" y="839" font-size="12.5" text-anchor="middle" font-weight="normal" fill="#000" stroke="#000" stroke-width="0.25">-4</text>
<line x1="226.00" y1="820.80" x2="226.00" y2="823.80" stroke="#3a3a3a" stroke-width="1"/>
<text x="224.5" y="839" font-size="12.5" text-anchor="middle" font-weight="normal" fill="#000" stroke="#000" stroke-width="0.25">-2</text>
<line x1="269.30" y1="820.80" x2="269.30" y2="823.80" stroke="#3a3a3a" stroke-width="1"/>
<text x="269.3" y="839" font-size="12.5" text-anchor="middle" font-weight="normal" fill="#000" stroke="#000" stroke-width="0.25">0</text>
<line x1="312.70" y1="820.80" x2="312.70" y2="823.80" stroke="#3a3a3a" stroke-width="1"/>
<text x="312.7" y="839" font-size="12.5" text-anchor="middle" font-weight="normal" fill="#000" stroke="#000" stroke-width="0.25">2</text>
<line x1="355.50" y1="820.80" x2="355.50" y2="823.80" stroke="#3a3a3a" stroke-width="1"/>
<text x="355.5" y="839" font-size="12.5" text-anchor="middle" font-weight="normal" fill="#000" stroke="#000" stroke-width="0.25">4</text>
<text x="199" y="859.7" font-size="13.5" text-anchor="middle" font-weight="normal" fill="#000" stroke="#000" stroke-width="0.25">PCA 1 (62.3%)</text>
<text x="10.3" y="715.8" font-size="13.5" text-anchor="middle" font-weight="normal" fill="#000" stroke="#000" stroke-width="0.25" transform="rotate(-90 10.3 715.8)">PCA 2 (20.1%)</text>
<text x="433.4" y="49.4" font-size="15.2" text-anchor="start" font-weight="normal" fill="#000" stroke="#000" stroke-width="0.25">d)</text>
<line x1="465.00" y1="57.00" x2="465.00" y2="295.50" stroke="#5e5e5e" stroke-width="1.8"/>
<line x1="464.10" y1="295.50" x2="685.00" y2="295.50" stroke="#222" stroke-width="1.5"/>
<line x1="461.80" y1="120.40" x2="465.00" y2="120.40" stroke="#5e5e5e" stroke-width="1"/>
<text x="455.5" y="124.80000000000001" font-size="12.5" text-anchor="end" font-weight="normal" fill="#000" stroke="#000" stroke-width="0.25">10</text>
<line x1="461.80" y1="202.60" x2="465.00" y2="202.60" stroke="#5e5e5e" stroke-width="1"/>
<text x="455.5" y="207.0" font-size="12.5" text-anchor="end" font-weight="normal" fill="#000" stroke="#000" stroke-width="0.25">5</text>
<line x1="461.80" y1="285.00" x2="465.00" y2="285.00" stroke="#5e5e5e" stroke-width="1"/>
<text x="455.5" y="289.4" font-size="12.5" text-anchor="end" font-weight="normal" fill="#000" stroke="#000" stroke-width="0.25">0</text>
<line x1="525.00" y1="194.80" x2="525.00" y2="284.60" stroke="#444" stroke-width="1.2"/>
<rect x="487.4" y="227.4" width="75.10000000000002" height="49.20000000000002" fill="#afcfdb" stroke="#444" stroke-width="1.1"/>
<line x1="487.40" y1="245.30" x2="562.50" y2="245.30" stroke="#333" stroke-width="2.2"/>
<line x1="525.00" y1="295.50" x2="525.00" y2="299.00" stroke="#555" stroke-width="1"/>
<line x1="624.90" y1="229.00" x2="624.90" y2="283.90" stroke="#444" stroke-width="1.2"/>
<rect x="587.3" y="253.6" width="75.20000000000005" height="24.400000000000006" fill="#f9aaac" stroke="#444" stroke-width="1.1"/>
<line x1="587.30" y1="271.80" x2="662.50" y2="271.80" stroke="#333" stroke-width="2.2"/>
<line x1="624.90" y1="295.50" x2="624.90" y2="299.00" stroke="#555" stroke-width="1"/>
<circle cx="512.3" cy="194.8" r="1.65" fill="#000"/>
<circle cx="514.1" cy="199.7" r="1.65" fill="#000"/>
<circle cx="501.6" cy="225" r="1.65" fill="#000"/>
<circle cx="509.4" cy="230.1" r="1.65" fill="#000"/>
<circle cx="541.5" cy="225.5" r="1.65" fill="#000"/>
<circle cx="546.4" cy="225" r="1.65" fill="#000"/>
<circle cx="487.2" cy="231.4" r="1.65" fill="#000"/>
<circle cx="517.8" cy="241.1" r="1.65" fill="#000"/>
<circle cx="537.3" cy="242.6" r="1.65" fill="#000"/>
<circle cx="542.6" cy="241.9" r="1.65" fill="#000"/>
<circle cx="548.3" cy="244.1" r="1.65" fill="#000"/>
<circle cx="560.5" cy="240.9" r="1.65" fill="#000"/>
<circle cx="564.3" cy="238.5" r="1.65" fill="#000"/>
<circle cx="486.6" cy="245.3" r="1.65" fill="#000"/>
<circle cx="491" cy="250.4" r="1.65" fill="#000"/>
<circle cx="525.5" cy="253.1" r="1.65" fill="#000"/>
<circle cx="544" cy="250.2" r="1.65" fill="#000"/>
<circle cx="559.5" cy="248.3" r="1.65" fill="#000"/>
<circle cx="508.6" cy="268.3" r="1.65" fill="#000"/>
<circle cx="525.9" cy="269" r="1.65" fill="#000"/>
<circle cx="497.4" cy="276.4" r="1.65" fill="#000"/>
<circle cx="497.4" cy="279.4" r="1.65" fill="#000"/>
<circle cx="503.1" cy="280.2" r="1.65" fill="#000"/>
<circle cx="514.5" cy="276.2" r="1.65" fill="#000"/>
<circle cx="524" cy="276.8" r="1.65" fill="#000"/>
<circle cx="535.8" cy="277.7" r="1.65" fill="#000"/>
<circle cx="562.9" cy="279.6" r="1.65" fill="#000"/>
<circle cx="486.6" cy="284" r="1.65" fill="#000"/>
<circle cx="502.2" cy="284.8" r="1.65" fill="#000"/>
<circle cx="514.5" cy="283.4" r="1.65" fill="#000"/>
<circle cx="515.5" cy="284.6" r="1.65" fill="#000"/>
<circle cx="500.7" cy="111" r="1.65" fill="#000"/>
<circle cx="485.1" cy="142.6" r="1.65" fill="#000"/>
<circle cx="555" cy="144" r="1.65" fill="#000"/>
<circle cx="560.8" cy="68.1" r="1.65" fill="#000"/>
<circle cx="594.8" cy="231.3" r="1.65" fill="#000"/>
<circle cx="609" cy="230.5" r="1.65" fill="#000"/>
<circle cx="629.6" cy="228.5" r="1.65" fill="#000"/>
<circle cx="632.4" cy="229.5" r="1.65" fill="#000"/>
<circle cx="663.2" cy="234" r="1.65" fill="#000"/>
<circle cx="624.9" cy="246.3" r="1.65" fill="#000"/>
<circle cx="635.8" cy="244.7" r="1.65" fill="#000"/>
<circle cx="626.6" cy="252.3" r="1.65" fill="#000"/>
<circle cx="638.2" cy="252.3" r="1.65" fill="#000"/>
<circle cx="595.2" cy="255.3" r="1.65" fill="#000"/>
<circle cx="645.5" cy="255" r="1.65" fill="#000"/>
<circle cx="657.8" cy="255.5" r="1.65" fill="#000"/>
<circle cx="601.9" cy="263" r="1.65" fill="#000"/>
<circle cx="656.5" cy="265.4" r="1.65" fill="#000"/>
<circle cx="608.6" cy="268.8" r="1.65" fill="#000"/>
<circle cx="613.3" cy="271.4" r="1.65" fill="#000"/>
<circle cx="617.3" cy="271.4" r="1.65" fill="#000"/>
<circle cx="588.8" cy="272.4" r="1.65" fill="#000"/>
<circle cx="624.9" cy="273.6" r="1.65" fill="#000"/>
<circle cx="648.2" cy="271.8" r="1.65" fill="#000"/>
<circle cx="593.5" cy="275.3" r="1.65" fill="#000"/>
<circle cx="597.4" cy="275.8" r="1.65" fill="#000"/>
<circle cx="600.7" cy="275.5" r="1.65" fill="#000"/>
<circle cx="608.3" cy="277.1" r="1.65" fill="#000"/>
<circle cx="586.8" cy="278.3" r="1.65" fill="#000"/>
<circle cx="589.8" cy="280.2" r="1.65" fill="#000"/>
<circle cx="605.6" cy="280.5" r="1.65" fill="#000"/>
<circle cx="612.5" cy="279.3" r="1.65" fill="#000"/>
<circle cx="633.5" cy="278.8" r="1.65" fill="#000"/>
<circle cx="646.4" cy="278.5" r="1.65" fill="#000"/>
<circle cx="665.2" cy="278" r="1.65" fill="#000"/>
<circle cx="621.5" cy="284.2" r="1.65" fill="#000"/>
<circle cx="634.5" cy="283.4" r="1.65" fill="#000"/>
<circle cx="639.2" cy="282.2" r="1.65" fill="#000"/>
<circle cx="648.1" cy="282.2" r="1.65" fill="#000"/>
<text x="431.5" y="167.3" font-size="13.3" text-anchor="middle" font-weight="normal" fill="#000" stroke="#000" stroke-width="0.25" transform="rotate(-90 431.5 167.3)">Functional richness</text>
<rect x="572.4" y="38.2" width="111.3" height="46.9" fill="#fff" stroke="#333" stroke-width="1"/>
<circle cx="584.5" cy="54" r="6.3" fill="#aecfdc" stroke="#222" stroke-width="1.1"/>
<circle cx="584.5" cy="70" r="6.3" fill="#f9aaae" stroke="#222" stroke-width="1.1"/>
<text x="597.5" y="58.6" font-size="13" text-anchor="start" font-weight="normal" fill="#000" stroke="#000" stroke-width="0.25">Pre-outbreak</text>
<text x="597.5" y="74.6" font-size="13" text-anchor="start" font-weight="normal" fill="#000" stroke="#000" stroke-width="0.25">Post-outbreak</text>
<text x="433.4" y="326.7" font-size="15.2" text-anchor="start" font-weight="normal" fill="#000" stroke="#000" stroke-width="0.25">e)</text>
<line x1="466.00" y1="334.30" x2="466.00" y2="572.50" stroke="#5e5e5e" stroke-width="1.8"/>
<line x1="465.10" y1="572.50" x2="683.00" y2="572.50" stroke="#444" stroke-width="1.9"/>
<line x1="462.80" y1="338.40" x2="466.00" y2="338.40" stroke="#5e5e5e" stroke-width="1"/>
<text x="456.1" y="343.79999999999995" font-size="12.5" text-anchor="end" font-weight="normal" fill="#000" stroke="#000" stroke-width="0.25">0.7</text>
<line x1="462.80" y1="386.80" x2="466.00" y2="386.80" stroke="#5e5e5e" stroke-width="1"/>
<text x="456.1" y="392.2" font-size="12.5" text-anchor="end" font-weight="normal" fill="#000" stroke="#000" stroke-width="0.25">0.6</text>
<line x1="462.80" y1="435.30" x2="466.00" y2="435.30" stroke="#5e5e5e" stroke-width="1"/>
<text x="456.1" y="440.7" font-size="12.5" text-anchor="end" font-weight="normal" fill="#000" stroke="#000" stroke-width="0.25">0.5</text>
<line x1="462.80" y1="483.70" x2="466.00" y2="483.70" stroke="#5e5e5e" stroke-width="1"/>
<text x="456.1" y="489.09999999999997" font-size="12.5" text-anchor="end" font-weight="normal" fill="#000" stroke="#000" stroke-width="0.25">0.4</text>
<line x1="462.80" y1="532.10" x2="466.00" y2="532.10" stroke="#5e5e5e" stroke-width="1"/>
<text x="456.1" y="537.5" font-size="12.5" text-anchor="end" font-weight="normal" fill="#000" stroke="#000" stroke-width="0.25">0.3</text>
<line x1="525.50" y1="345.20" x2="525.50" y2="491.80" stroke="#444" stroke-width="1.2"/>
<rect x="488.5" y="381.7" width="74.0" height="48.0" fill="#afcfdb" stroke="#444" stroke-width="1.1"/>
<line x1="488.50" y1="412.60" x2="562.50" y2="412.60" stroke="#333" stroke-width="2.2"/>
<line x1="525.50" y1="572.50" x2="525.50" y2="576.00" stroke="#555" stroke-width="1"/>
<line x1="624.10" y1="353.10" x2="624.10" y2="561.70" stroke="#444" stroke-width="1.2"/>
<rect x="586.8" y="412.2" width="74.40000000000009" height="71.90000000000003" fill="#f9aaac" stroke="#444" stroke-width="1.1"/>
<line x1="586.80" y1="462.30" x2="661.20" y2="462.30" stroke="#333" stroke-width="2.2"/>
<line x1="624.10" y1="572.50" x2="624.10" y2="576.00" stroke="#555" stroke-width="1"/>
<circle cx="502.8" cy="347.5" r="1.65" fill="#000"/>
<circle cx="512.3" cy="345.1" r="1.65" fill="#000"/>
<circle cx="505.4" cy="358.3" r="1.65" fill="#000"/>
<circle cx="518.9" cy="362.1" r="1.65" fill="#000"/>
<circle cx="529.3" cy="366.9" r="1.65" fill="#000"/>
<circle cx="503.9" cy="369.7" r="1.65" fill="#000"/>
<circle cx="519.8" cy="374.7" r="1.65" fill="#000"/>
<circle cx="505.6" cy="377.3" r="1.65" fill="#000"/>
<circle cx="513.2" cy="378.8" r="1.65" fill="#000"/>
<circle cx="509.6" cy="387.4" r="1.65" fill="#000"/>
<circle cx="532.7" cy="385.5" r="1.65" fill="#000"/>
<circle cx="505.6" cy="402" r="1.65" fill="#000"/>
<circle cx="543" cy="400.7" r="1.65" fill="#000"/>
<circle cx="548.3" cy="401.6" r="1.65" fill="#000"/>
<circle cx="510" cy="406.7" r="1.65" fill="#000"/>
<circle cx="511.7" cy="408.8" r="1.65" fill="#000"/>
<circle cx="542.6" cy="411.1" r="1.65" fill="#000"/>
<circle cx="495.2" cy="415.3" r="1.65" fill="#000"/>
<circle cx="496.7" cy="414.5" r="1.65" fill="#000"/>
<circle cx="541.9" cy="416" r="1.65" fill="#000"/>
<circle cx="536.5" cy="417.7" r="1.65" fill="#000"/>
<circle cx="560.6" cy="412.6" r="1.65" fill="#000"/>
<circle cx="514.9" cy="422.9" r="1.65" fill="#000"/>
<circle cx="527.8" cy="426.7" r="1.65" fill="#000"/>
<circle cx="533.1" cy="428.4" r="1.65" fill="#000"/>
<circle cx="558.2" cy="429.1" r="1.65" fill="#000"/>
<circle cx="511.3" cy="430.3" r="1.65" fill="#000"/>
<circle cx="498.8" cy="432.7" r="1.65" fill="#000"/>
<circle cx="490.2" cy="436.7" r="1.65" fill="#000"/>
<circle cx="527.8" cy="440" r="1.65" fill="#000"/>
<circle cx="533.1" cy="440.1" r="1.65" fill="#000"/>
<circle cx="536" cy="445.8" r="1.65" fill="#000"/>
<circle cx="563.5" cy="463.8" r="1.65" fill="#000"/>
<circle cx="538.3" cy="479" r="1.65" fill="#000"/>
<circle cx="490.2" cy="492.3" r="1.65" fill="#000"/>
<circle cx="638" cy="352.9" r="1.65" fill="#000"/>
<circle cx="610.3" cy="366" r="1.65" fill="#000"/>
<circle cx="661" cy="378.3" r="1.65" fill="#000"/>
<circle cx="650.6" cy="381.1" r="1.65" fill="#000"/>
<circle cx="645.5" cy="385.7" r="1.65" fill="#000"/>
<circle cx="631.6" cy="387" r="1.65" fill="#000"/>
<circle cx="626.6" cy="393.9" r="1.65" fill="#000"/>
<circle cx="596.9" cy="407.8" r="1.65" fill="#000"/>
<circle cx="610.3" cy="410.2" r="1.65" fill="#000"/>
<circle cx="632.6" cy="414.2" r="1.65" fill="#000"/>
<circle cx="603.9" cy="422.3" r="1.65" fill="#000"/>
<circle cx="618.9" cy="420.2" r="1.65" fill="#000"/>
<circle cx="641.7" cy="420.2" r="1.65" fill="#000"/>
<circle cx="627.6" cy="428.1" r="1.65" fill="#000"/>
<circle cx="629.6" cy="429" r="1.65" fill="#000"/>
<circle cx="655.6" cy="447.9" r="1.65" fill="#000"/>
<circle cx="597.4" cy="453.8" r="1.65" fill="#000"/>
<circle cx="616.7" cy="462.3" r="1.65" fill="#000"/>
<circle cx="616.7" cy="464" r="1.65" fill="#000"/>
<circle cx="620.4" cy="467.2" r="1.65" fill="#000"/>
<circle cx="650.2" cy="464.3" r="1.65" fill="#000"/>
<circle cx="655.6" cy="469.4" r="1.65" fill="#000"/>
<circle cx="635" cy="473.6" r="1.65" fill="#000"/>
<circle cx="609.6" cy="480" r="1.65" fill="#000"/>
<circle cx="585.4" cy="480.8" r="1.65" fill="#000"/>
<circle cx="585.4" cy="484" r="1.65" fill="#000"/>
<circle cx="605.8" cy="485.3" r="1.65" fill="#000"/>
<circle cx="625.4" cy="484.7" r="1.65" fill="#000"/>
<circle cx="625.9" cy="497.1" r="1.65" fill="#000"/>
<circle cx="594.3" cy="498.9" r="1.65" fill="#000"/>
<circle cx="599.4" cy="513.4" r="1.65" fill="#000"/>
<circle cx="661" cy="512.7" r="1.65" fill="#000"/>
<circle cx="619.5" cy="518.6" r="1.65" fill="#000"/>
<circle cx="613.6" cy="521.9" r="1.65" fill="#000"/>
<circle cx="651.4" cy="562.2" r="1.65" fill="#000"/>
<text x="433.0" y="456.2" font-size="13.3" text-anchor="middle" font-weight="normal" fill="#000" stroke="#000" stroke-width="0.25" transform="rotate(-90 433.0 456.2)">Functional evennes</text>
<text x="437.5" y="605.4" font-size="15.2" text-anchor="start" font-weight="normal" fill="#000" stroke="#000" stroke-width="0.25">f)</text>
<line x1="466.80" y1="608.60" x2="466.80" y2="846.90" stroke="#222" stroke-width="1.8"/>
<line x1="465.90" y1="846.90" x2="680.00" y2="846.90" stroke="#222" stroke-width="1.5"/>
<line x1="463.60" y1="632.10" x2="466.80" y2="632.10" stroke="#222" stroke-width="1"/>
<text x="455.3" y="636.5" font-size="12.5" text-anchor="end" font-weight="normal" fill="#000" stroke="#000" stroke-width="0.25">20</text>
<line x1="463.60" y1="684.40" x2="466.80" y2="684.40" stroke="#222" stroke-width="1"/>
<text x="455.3" y="688.8" font-size="12.5" text-anchor="end" font-weight="normal" fill="#000" stroke="#000" stroke-width="0.25">15</text>
<line x1="463.60" y1="736.80" x2="466.80" y2="736.80" stroke="#222" stroke-width="1"/>
<text x="455.3" y="741.1999999999999" font-size="12.5" text-anchor="end" font-weight="normal" fill="#000" stroke="#000" stroke-width="0.25">10</text>
<line x1="463.60" y1="789.10" x2="466.80" y2="789.10" stroke="#222" stroke-width="1"/>
<text x="455.3" y="793.5" font-size="12.5" text-anchor="end" font-weight="normal" fill="#000" stroke="#000" stroke-width="0.25">5</text>
<line x1="463.60" y1="841.30" x2="466.80" y2="841.30" stroke="#222" stroke-width="1"/>
<text x="455.3" y="845.6999999999999" font-size="12.5" text-anchor="end" font-weight="normal" fill="#000" stroke="#000" stroke-width="0.25">0</text>
<line x1="524.70" y1="754.70" x2="524.70" y2="831.50" stroke="#444" stroke-width="1.2"/>
<rect x="488.5" y="792.5" width="73.0" height="30.100000000000023" fill="#afcfdb" stroke="#444" stroke-width="1.1"/>
<line x1="488.50" y1="805.20" x2="561.50" y2="805.20" stroke="#333" stroke-width="2.2"/>
<line x1="524.70" y1="846.90" x2="524.70" y2="850.40" stroke="#555" stroke-width="1"/>
<line x1="621.60" y1="788.90" x2="621.60" y2="835.40" stroke="#444" stroke-width="1.2"/>
<rect x="585.2" y="805.3" width="73.0" height="17.700000000000045" fill="#f9aaac" stroke="#444" stroke-width="1.1"/>
<line x1="585.20" y1="814.60" x2="658.20" y2="814.60" stroke="#333" stroke-width="2.2"/>
<line x1="621.60" y1="846.90" x2="621.60" y2="850.40" stroke="#555" stroke-width="1"/>
<circle cx="486.6" cy="619.4" r="1.65" fill="#000"/>
<circle cx="520" cy="649.6" r="1.65" fill="#000"/>
<circle cx="547.8" cy="721" r="1.65" fill="#000"/>
<circle cx="500.5" cy="732" r="1.65" fill="#000"/>
<circle cx="541.5" cy="754.3" r="1.65" fill="#000"/>
<circle cx="511" cy="760.4" r="1.65" fill="#000"/>
<circle cx="536" cy="780.3" r="1.65" fill="#000"/>
<circle cx="542.8" cy="786.7" r="1.65" fill="#000"/>
<circle cx="545.7" cy="787.7" r="1.65" fill="#000"/>
<circle cx="557.7" cy="797.2" r="1.65" fill="#000"/>
<circle cx="551" cy="799.5" r="1.65" fill="#000"/>
<circle cx="549.1" cy="801.6" r="1.65" fill="#000"/>
<circle cx="561.5" cy="800.1" r="1.65" fill="#000"/>
<circle cx="487.6" cy="805.2" r="1.65" fill="#000"/>
<circle cx="506.6" cy="804.8" r="1.65" fill="#000"/>
<circle cx="515.2" cy="803.3" r="1.65" fill="#000"/>
<circle cx="543" cy="805.2" r="1.65" fill="#000"/>
<circle cx="503.9" cy="808.7" r="1.65" fill="#000"/>
<circle cx="517.7" cy="811.5" r="1.65" fill="#000"/>
<circle cx="527.2" cy="817" r="1.65" fill="#000"/>
<circle cx="528.7" cy="816.3" r="1.65" fill="#000"/>
<circle cx="547.2" cy="817.6" r="1.65" fill="#000"/>
<circle cx="552.4" cy="815.7" r="1.65" fill="#000"/>
<circle cx="500.5" cy="822.2" r="1.65" fill="#000"/>
<circle cx="515.8" cy="823.9" r="1.65" fill="#000"/>
<circle cx="520.5" cy="825" r="1.65" fill="#000"/>
<circle cx="551.6" cy="823.9" r="1.65" fill="#000"/>
<circle cx="556.4" cy="823.3" r="1.65" fill="#000"/>
<circle cx="497.3" cy="827.3" r="1.65" fill="#000"/>
<circle cx="491.4" cy="831.5" r="1.65" fill="#000"/>
<circle cx="499" cy="831.9" r="1.65" fill="#000"/>
<circle cx="544.9" cy="829.2" r="1.65" fill="#000"/>
<circle cx="591.2" cy="660.8" r="1.65" fill="#000"/>
<circle cx="634.8" cy="733.6" r="1.65" fill="#000"/>
<circle cx="642.1" cy="744.5" r="1.65" fill="#000"/>
<circle cx="602.4" cy="788.6" r="1.65" fill="#000"/>
<circle cx="640" cy="795.4" r="1.65" fill="#000"/>
<circle cx="622.9" cy="795.4" r="1.65" fill="#000"/>
<circle cx="608.6" cy="800.3" r="1.65" fill="#000"/>
<circle cx="605.2" cy="802.7" r="1.65" fill="#000"/>
<circle cx="624.4" cy="803.7" r="1.65" fill="#000"/>
<circle cx="584.2" cy="806.8" r="1.65" fill="#000"/>
<circle cx="618.5" cy="808.1" r="1.65" fill="#000"/>
<circle cx="627" cy="808.9" r="1.65" fill="#000"/>
<circle cx="618.5" cy="810.7" r="1.65" fill="#000"/>
<circle cx="585.2" cy="812" r="1.65" fill="#000"/>
<circle cx="599" cy="813.3" r="1.65" fill="#000"/>
<circle cx="597.7" cy="814.1" r="1.65" fill="#000"/>
<circle cx="655.6" cy="812" r="1.65" fill="#000"/>
<circle cx="609.4" cy="815.2" r="1.65" fill="#000"/>
<circle cx="654.1" cy="816.2" r="1.65" fill="#000"/>
<circle cx="612" cy="819.3" r="1.65" fill="#000"/>
<circle cx="660" cy="818.3" r="1.65" fill="#000"/>
<circle cx="620.5" cy="819.8" r="1.65" fill="#000"/>
<circle cx="624.2" cy="821.1" r="1.65" fill="#000"/>
<circle cx="647.8" cy="821.9" r="1.65" fill="#000"/>
<circle cx="649.7" cy="823.2" r="1.65" fill="#000"/>
<circle cx="655.6" cy="822.4" r="1.65" fill="#000"/>
<circle cx="634.1" cy="824.5" r="1.65" fill="#000"/>
<circle cx="638" cy="826.1" r="1.65" fill="#000"/>
<circle cx="631.5" cy="828.1" r="1.65" fill="#000"/>
<circle cx="606.3" cy="828.9" r="1.65" fill="#000"/>
<circle cx="612.8" cy="831" r="1.65" fill="#000"/>
<circle cx="602.4" cy="836.2" r="1.65" fill="#000"/>
<circle cx="634.1" cy="835.7" r="1.65" fill="#000"/>
<text x="417.5" y="737.7" font-size="13.3" text-anchor="middle" font-weight="normal" fill="#000" stroke="#000" stroke-width="0.25" transform="rotate(-90 417.5 737.7)">Community calcification</text>
<text x="431.0" y="737.7" font-size="13.3" text-anchor="middle" font-weight="normal" fill="#000" stroke="#000" stroke-width="0.25" transform="rotate(-90 431.0 737.7)">(Kg CaCO<tspan font-size="7" dy="2.5">3</tspan><tspan dy="-2.5"> m</tspan><tspan font-size="7" dy="-5.5">2</tspan><tspan dy="5.5">yr</tspan><tspan font-size="7" dy="-5.5">-1</tspan><tspan dy="5.5">)</tspan></text>
<text x="524.5" y="865" font-size="13" text-anchor="middle" font-weight="normal" fill="#000" stroke="#000" stroke-width="0.25">Pre-outbreak</text>
<text x="622" y="865" font-size="13" text-anchor="middle" font-weight="normal" fill="#000" stroke="#000" stroke-width="0.25">Post-outbreak</text>
</svg>
</body></html>
